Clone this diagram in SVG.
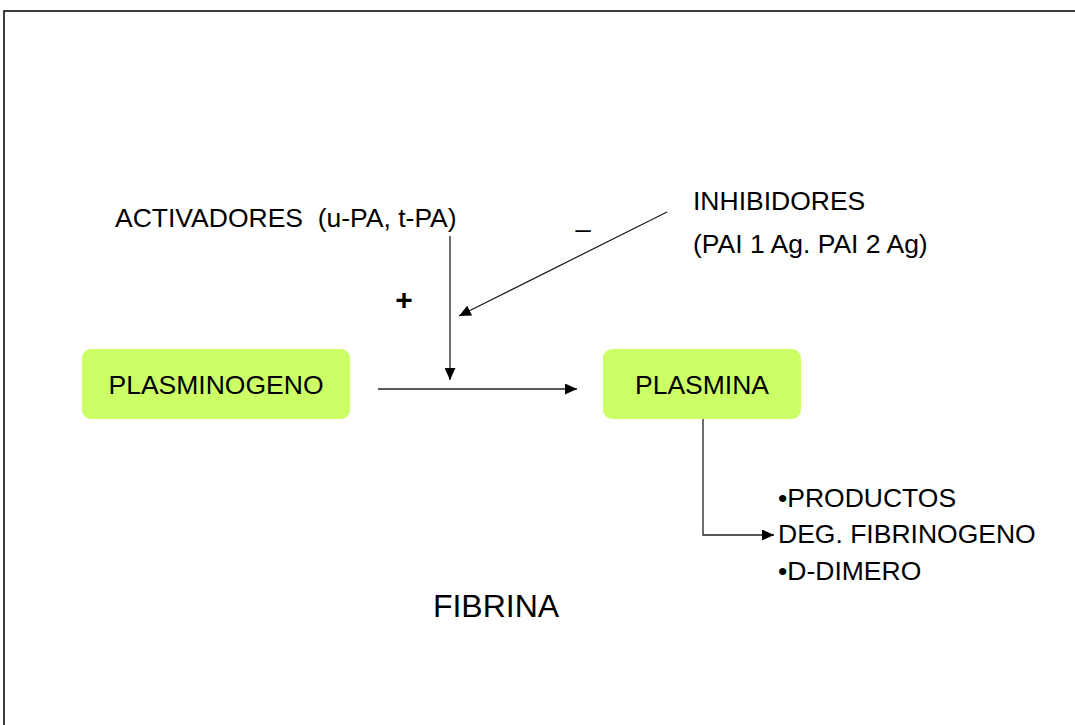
<svg xmlns="http://www.w3.org/2000/svg" width="1075" height="725" viewBox="0 0 1075 725">
<defs>
<style>
text{font-family:"Liberation Sans",Arial,sans-serif;font-size:26.5px;fill:#000}
text.big{font-size:32px}
text.plus{font-size:30px;font-weight:bold}
.box{fill:#CCFF66}
.ln{stroke:#222;stroke-width:1.3;fill:none}
</style>
<marker id="ah" viewBox="0 0 12 11" refX="12" refY="5.5" markerWidth="12" markerHeight="11" markerUnits="userSpaceOnUse" orient="auto">
<path d="M0,0 L12,5.5 L0,11 Z" fill="#000"/>
</marker>
</defs>
<rect width="1075" height="725" fill="#fff"/>
<rect x="4" y="11" width="1200" height="900" fill="none" stroke="#000" stroke-width="1.5"/>
<g id="connectors">
<line class="ln" x1="450" y1="236" x2="450" y2="380" marker-end="url(#ah)"/>
<line class="ln" x1="378" y1="389" x2="577" y2="389" marker-end="url(#ah)"/>
<line class="ln" x1="667" y1="212" x2="459" y2="316" marker-end="url(#ah)"/>
<polyline class="ln" points="703,419 703,535 774,535" marker-end="url(#ah)"/>
</g>
<g id="plasminogeno">
<rect class="box" x="82" y="349" width="268" height="70" rx="9"/>
<text x="216" y="394" text-anchor="middle">PLASMINOGENO</text>
</g>
<g id="plasmina">
<rect class="box" x="603" y="349" width="198" height="70" rx="9"/>
<text x="702" y="394" text-anchor="middle">PLASMINA</text>
</g>
<g id="activadores">
<text x="115" y="227" xml:space="preserve">ACTIVADORES  (u-PA, t-PA)</text>
</g>
<g id="inhibidores">
<text x="693" y="210">INHIBIDORES</text>
<text x="693" y="253">(PAI 1 Ag. PAI 2 Ag)</text>
</g>
<g id="signs">
<text class="plus" x="404" y="310" text-anchor="middle">+</text>
<text x="583" y="227" text-anchor="middle">_</text>
</g>
<g id="productos">
<text x="778" y="507">•PRODUCTOS</text>
<text x="778" y="543">DEG. FIBRINOGENO</text>
<text x="778" y="580">•D-DIMERO</text>
</g>
<g id="fibrina">
<text class="big" x="496" y="617" text-anchor="middle">FIBRINA</text>
</g>
</svg>
